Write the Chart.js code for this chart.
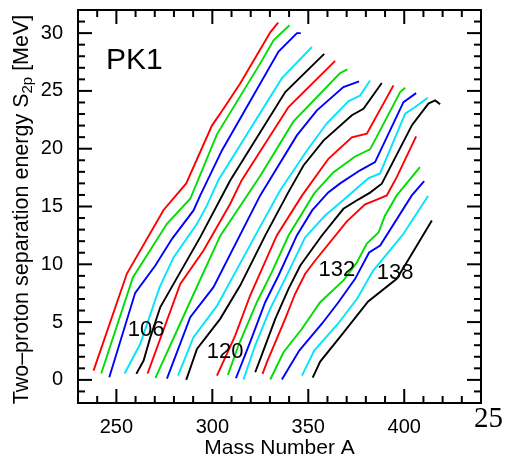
<!DOCTYPE html>
<html>
<head>
<meta charset="utf-8">
<script src="https://cdn.jsdelivr.net/npm/chart.js@4.4.1/dist/chart.umd.min.js"></script>
<style>
  html, body { margin: 0; padding: 0; background: #fff; }
</style>
</head>
<body>
<canvas id="s2pChart" width="505" height="463"></canvas>
<script>
// S2p isotopic chains, one array per proton number Z: [mass number A, S2p (MeV)]
const z100 = [[238.1,0.8],[255.5,9.2],[274.6,14.7],[286.4,17.0],[299.8,22.0],[305.2,23.3],[314.5,25.65],[330.2,30.07],[334.3,30.9]];
const z102 = [[242.1,0.55],[258.6,8.86],[276.35,13.5],[288.5,15.67],[302.4,21.24],[324.9,27.36],[331.9,29.38],[340.2,30.68]];
const z104 = [[246.3,0.23],[259.8,7.53],[270.3,9.9],[279.0,12.2],[290.2,14.66],[293.7,15.96],[305.0,19.85],[334.5,28.4],[344.1,30.0],[346.1,30.0]];
const z106 = [[254.3,0.55],[262.4,3.1],[272.5,8.0],[279.8,10.6],[292.0,13.5],[297.2,15.1],[303.2,17.3],[336.25,26.1],[351.9,28.8]];
const z108 = [[260.4,0.52],[264.2,1.67],[267.7,3.7],[272.9,6.3],[293.7,12.35],[309.3,17.25],[338.0,24.9],[358.3,28.2]];
const z110 = [[266.25,0.55],[283.3,8.3],[295.4,11.2],[309.2,15.2],[315.4,17.3],[339.7,23.6],[364.0,27.6]];
const z112 = [[270.3,0.16],[285.9,5.85],[304.1,12.45],[325.0,17.66],[342.3,22.36],[366.6,26.55],[370.4,26.87]];
const z114 = [[276.35,0.11],[288.5,5.42],[300.6,8.02],[324.95,15.96],[344.05,21.15],[354.5,23.32],[368.3,25.33],[376.5,25.83]];
const z116 = [[282.1,0.37],[290.2,3.7],[302.4,6.4],[326.7,13.8],[335.4,16.4],[349.3,19.85],[359.7,22.2],[370.9,24.1],[377.0,24.6],[382.2,25.9]];
const z118 = [[286.4,0.0],[292.0,2.68],[304.1,5.28],[314.5,8.16],[327.6,12.5],[339.5,16.2],[347.5,18.55],[357.9,20.7],[372.7,22.9],[378.75,23.46],[388.3,25.68]];
const z120 = [[302.4,0.37],[311.9,3.83],[319.7,7.3],[333.6,12.5],[346.8,15.96],[360.5,19.13],[372.7,20.98],[380.5,21.3],[394.4,25.48]];
const z122 = [[308.1,0.43],[313.6,2.97],[323.2,6.72],[331.0,9.32],[339.7,12.49],[353.1,16.13],[363.0,17.95],[374.4,19.33],[382.2,19.94],[397.9,24.9],[400.5,25.28]];
const z124 = [[312.3,0.14],[319.7,3.26],[327.55,6.72],[334.5,9.03],[344.05,12.5],[352.0,14.66],[360.4,16.22],[366.6,17.0],[377.0,18.13],[384.8,18.84],[399.6,24.03],[406.2,24.81]];
const z126 = [[316.25,0.03],[322.3,2.97],[330.1,6.15],[337.9,8.74],[348.3,12.32],[358.8,14.22],[369.2,15.7],[381.2,17.43],[387.4,17.86],[400.5,23.03],[405.7,23.6],[412.3,24.41]];
const z128 = [[322.35,0.66],[325.0,1.82],[332.8,5.28],[339.7,7.88],[345.85,9.9],[357.1,12.49],[368.3,14.8],[376.0,15.6],[382.2,16.2],[388.3,16.97],[404.1,22.06],[412.6,23.9],[416.1,24.18],[418.7,23.84]];
const z130 = [[326.15,0.52],[328.4,1.52],[337.95,5.28],[343.15,7.45],[348.4,9.18],[353.6,10.33],[370.1,13.71],[379.6,15.18],[384.8,15.53],[390.9,15.96],[396.1,17.54],[406.2,21.07]];
const z132 = [[330.2,0.03],[337.1,2.39],[346.7,4.42],[356.2,6.72],[368.3,8.6],[375.3,10.16],[380.5,11.8],[386.6,12.75],[390.0,14.23],[396.1,15.96],[408.2,18.41]];
const z134 = [[336.25,0.03],[345.3,2.54],[357.2,4.88],[365.7,6.72],[374.4,8.74],[381.7,11.02],[387.45,11.63],[403.95,15.96],[410.4,17.2]];
const z136 = [[346.7,0.37],[353.1,2.54],[365.6,4.88],[375.5,7.04],[383.8,9.46],[391.8,11.05],[399.6,12.64],[412.4,15.91]];
const z138 = [[352.3,0.2],[356.2,1.58],[367.1,3.83],[381.2,6.78],[396.1,8.74],[401.35,10.18],[414.4,13.79]];

const protonNumbers = [100,102,104,106,108,110,112,114,116,118,120,122,124,126,128,130,132,134,136,138];
const chains = [z100,z102,z104,z106,z108,z110,z112,z114,z116,z118,z120,z122,z124,z126,z128,z130,z132,z134,z136,z138];
const chainColors = ['#ff0000', '#00dd00', '#0000ff', '#00e5ff', '#000000'];

// axis ticks
const xTicks = [250, 300, 350, 400];
const yTicks = [0, 5, 10, 15, 20, 25, 30];

// Z labels written next to some chains
const zLabels = ['106', '120', '132', '138'];
const zLabelA = [265.5, 306.7, 364.9, 395.3];
const zLabelS = [4.3, 2.45, 9.55, 9.25];

const SANS = "'Liberation Sans', Arial, Helvetica, sans-serif";
Chart.defaults.font.family = SANS;
Chart.defaults.color = '#000';

// frame, inward ticks and the text that sits on the plot
const frameTicks = {
  id: 'frameTicks',
  afterDatasetsDraw(chart) {
    const {ctx, chartArea: a, scales: {x, y}} = chart;
    const seg = (x1, y1, x2, y2) => { ctx.beginPath(); ctx.moveTo(x1, y1); ctx.lineTo(x2, y2); ctx.stroke(); };
    ctx.save();
    ctx.strokeStyle = '#000';
    ctx.lineWidth = 2;
    for (let v = 240; v <= 430; v += 10) {
      const px = x.getPixelForValue(v);
      const len = v % 50 === 0 ? 14 : 7;
      seg(px, a.bottom, px, a.bottom - len);
      seg(px, a.top, px, a.top + len);
    }
    for (let v = -1; v <= 31; v++) {
      const py = y.getPixelForValue(v);
      const len = v % 5 === 0 ? 14 : 7;
      seg(a.left, py, a.left + len, py);
      seg(a.right, py, a.right - len, py);
    }
    ctx.strokeRect(a.left, a.top, a.right - a.left, a.bottom - a.top);

    ctx.fillStyle = '#000';
    ctx.textAlign = 'center';
    ctx.textBaseline = 'middle';
    ctx.font = '22px ' + SANS;
    zLabels.forEach((t, i) => {
      ctx.fillText(t, x.getPixelForValue(zLabelA[i]), y.getPixelForValue(zLabelS[i]));
    });
    ctx.font = '30px ' + SANS;
    ctx.fillText('PK1', x.getPixelForValue(259.4), y.getPixelForValue(27.6));

    // y title with subscript
    ctx.save();
    ctx.translate(21, (a.top + a.bottom) / 2 + 3);
    ctx.rotate(-Math.PI / 2);
    ctx.textAlign = 'left';
    ctx.textBaseline = 'alphabetic';
    const mainFont = '21.5px ' + SANS, subFont = '15px ' + SANS;
    const p1 = 'Two\u2013proton separation energy S', p2 = '2p', p3 = ' [MeV]';
    ctx.font = mainFont; const w1 = ctx.measureText(p1).width, w3 = ctx.measureText(p3).width;
    ctx.font = subFont; const w2 = ctx.measureText(p2).width;
    let cx = -(w1 + w2 + w3) / 2;
    ctx.font = mainFont; ctx.fillText(p1, cx, 7); cx += w1;
    ctx.font = subFont; ctx.fillText(p2, cx, 11); cx += w2;
    ctx.font = mainFont; ctx.fillText(p3, cx, 7);
    ctx.restore();

    // stray page number in the lower right corner
    ctx.textAlign = 'left';
    ctx.textBaseline = 'alphabetic';
    ctx.font = "29px 'Liberation Serif', 'Times New Roman', serif";
    ctx.fillText('25', 474, 427);
    ctx.restore();
  }
};

const datasets = chains.map((pts, i) => ({
  label: 'Z=' + protonNumbers[i],
  data: pts.map(p => ({x: p[0], y: p[1]})),
  borderColor: chainColors[i % chainColors.length],
  borderWidth: 1.9,
  pointRadius: 0,
  tension: 0,
  fill: false
}));

new Chart(document.getElementById('s2pChart'), {
  type: 'line',
  data: { datasets: datasets },
  options: {
    responsive: false,
    animation: false,
    devicePixelRatio: 1,
    layout: { padding: { top: 10, right: 24, left: 0, bottom: 0 } },
    plugins: { legend: { display: false }, tooltip: { enabled: false } },
    scales: {
      x: {
        type: 'linear',
        min: 230,
        max: 440,
        afterBuildTicks: axis => { axis.ticks = xTicks.map(v => ({ value: v })); },
        afterFit: axis => { axis.height = 60; axis.paddingLeft = 0; axis.paddingRight = 0; },
        grid: { display: false, drawTicks: false },
        border: { display: false },
        ticks: { font: { size: 20 }, padding: 12, maxRotation: 0, autoSkip: false },
        title: { display: true, text: 'Mass Number A', font: { size: 21 }, padding: { top: 0, bottom: 2 } }
      },
      y: {
        type: 'linear',
        min: -2,
        max: 32,
        afterBuildTicks: axis => { axis.ticks = yTicks.map(v => ({ value: v })); },
        afterFit: axis => { axis.width = 78; axis.paddingTop = 0; axis.paddingBottom = 0; },
        grid: { display: false, drawTicks: false },
        border: { display: false },
        ticks: { font: { size: 20 }, padding: 15, autoSkip: false }
      }
    }
  },
  plugins: [frameTicks]
});
</script>
</body>
</html>
